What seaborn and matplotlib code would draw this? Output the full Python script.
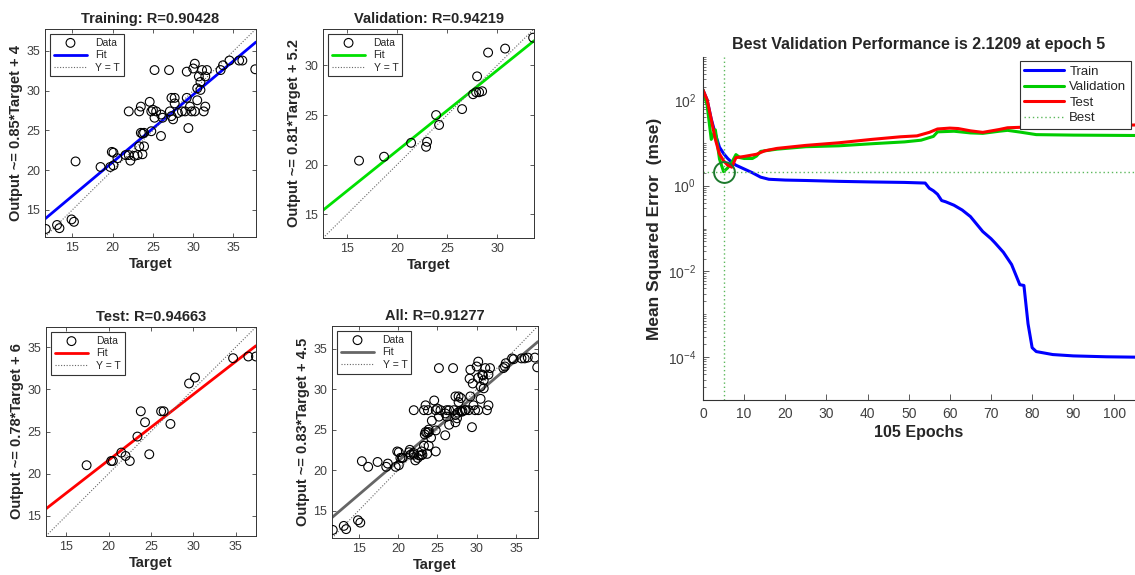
import numpy as np
import matplotlib
matplotlib.use("Agg")
import matplotlib.pyplot as plt
import seaborn as sns
from matplotlib.ticker import LogLocator, NullFormatter

# ── regression data (target, output) ───────────────────────────────────────
train_target = [11.7, 13.1, 13.4, 14.9, 15.2, 15.4, 18.5, 19.7, 20.1, 20.1, 19.9, 20.6,
                21.6, 22.0, 22.2, 22.0, 23.1, 23.3, 23.5, 23.7, 23.3, 23.5, 23.7, 23.9,
                23.9, 24.6, 24.8, 24.8, 25.0, 25.2, 25.2, 25.4, 26.0, 26.2, 27.0, 27.1,
                27.3, 27.3, 27.5, 27.7, 27.7, 28.1, 28.6, 29.0, 29.2, 29.2, 29.4, 29.6,
                29.8, 30.0, 30.2, 30.2, 30.5, 30.5, 30.7, 30.9, 31.1, 31.3, 31.5, 31.5,
                31.7, 33.4, 33.7, 34.5, 35.7, 36.1, 37.7, 30.9, 26.0, 22.7]
train_output = [12.6, 13.1, 12.7, 13.8, 13.5, 21.1, 20.4, 20.4, 20.6, 22.2, 22.3, 21.5,
                21.9, 21.9, 21.2, 27.4, 21.9, 23.0, 24.7, 24.6, 27.4, 28.0, 22.0, 23.0,
                24.7, 28.6, 27.4, 24.9, 27.6, 32.6, 26.6, 27.4, 24.3, 26.6, 32.6, 27.4,
                26.8, 29.1, 26.4, 29.1, 28.4, 27.2, 27.4, 27.4, 29.1, 32.4, 25.3, 28.0,
                27.4, 32.8, 33.4, 27.4, 28.8, 30.3, 31.8, 31.1, 32.6, 27.4, 31.8, 28.0,
                32.6, 32.6, 33.2, 33.8, 33.8, 33.8, 32.7, 30.1, 27.0, 21.8]

val_target = [16.2, 18.7, 21.4, 23.0, 22.9, 23.9, 24.2, 26.5, 27.6, 27.9, 28.2, 28.5,
              28.0, 29.1, 30.8, 33.6]
val_output = [20.4, 20.8, 22.2, 22.3, 21.8, 25.0, 24.0, 25.6, 27.1, 27.3, 27.3, 27.4,
              28.9, 31.3, 31.7, 32.8]

test_target = [17.4, 20.3, 20.5, 21.5, 22.0, 22.5, 23.4, 23.8, 24.3, 24.8, 26.2, 26.5,
               27.3, 29.5, 30.2, 34.7, 36.5, 37.4]
test_output = [21.0, 21.5, 21.5, 22.5, 22.1, 21.5, 24.4, 27.4, 26.1, 22.3, 27.4, 27.4,
               25.9, 30.7, 31.4, 33.7, 33.9, 33.9]

all_target = train_target + val_target + test_target
all_output = train_output + val_output + test_output

panel_titles = ["Training: R=0.90428", "Validation: R=0.94219",
                "Test: R=0.94663", "All: R=0.91277"]
fit_slopes = [0.85, 0.81, 0.78, 0.83]
fit_intercepts = [4.0, 5.2, 6.0, 4.5]
fit_labels = ["Output ~= 0.85*Target + 4", "Output ~= 0.81*Target + 5.2",
              "Output ~= 0.78*Target + 6", "Output ~= 0.83*Target + 4.5"]

# ── training record (epoch, mse) ─────────────────────────────────────────────
train_epochs = [0, 1, 2, 3, 4, 5, 6, 7, 8, 10, 12, 14, 16, 20, 25, 33, 41, 49, 54, 55,
                56, 57, 58, 59, 61, 63, 65, 68, 70, 71, 73, 75, 77, 78, 79, 80, 81, 85,
                90, 98, 105]
train_mse = [170, 100, 36, 16, 7.9, 5.6, 4.3, 3.5, 3.0, 2.45, 2.0, 1.58, 1.41, 1.35,
             1.32, 1.26, 1.22, 1.19, 1.15, 0.87, 0.76, 0.63, 0.45, 0.42, 0.35, 0.27,
             0.19, 0.085, 0.058, 0.046, 0.028, 0.0145, 0.0049, 0.0047, 0.0006, 0.000166,
             0.000135, 0.000115, 0.000107, 0.000102, 0.0001]
val_epochs = [0, 1, 2, 3, 4, 5, 6, 7, 8, 9, 10, 12, 13, 14, 18, 25, 33, 41, 49, 53, 56,
              57, 61, 65, 68, 72, 74, 77, 81, 90, 105]
val_mse = [170, 75, 12, 20, 4.2, 2.1209, 2.6, 3.5, 5.3, 4.5, 4.3, 4.3, 4.9, 6.3, 7.1,
           8.1, 8.5, 9.5, 10.5, 11.5, 14.1, 18.0, 18.6, 17.0, 16.6, 18.6, 19.5, 17.8,
           15.5, 15.1, 14.8]
test_epochs = [0, 1, 2, 3, 4, 5, 6, 7, 8, 10, 13, 15, 18, 25, 33, 41, 48, 52, 55, 57,
               60, 62, 65, 68, 72, 74, 80, 90, 105]
test_mse = [170, 100, 35, 12, 5.5, 3.8, 3.0, 2.7, 4.5, 4.8, 5.4, 6.5, 7.4, 8.7, 10,
            12, 13.8, 14.5, 17.5, 21, 22, 21.5, 19, 17.5, 20.4, 22.4, 23.5, 24.5, 26]
best_epoch = 5
best_perf = 2.1209

sns.set_style("ticks")
plt.rcParams["font.family"] = ["Liberation Sans", "DejaVu Sans"]
plt.rcParams["xtick.direction"] = "in"
plt.rcParams["ytick.direction"] = "in"

fig = plt.figure(figsize=(11.35, 5.75), dpi=100)

# ── four regression panels ─────────────────────────────────────────────────
positions = [[0.0396, 0.588, 0.186, 0.362], [0.2846, 0.586, 0.186, 0.364],
             [0.0405, 0.0678, 0.185, 0.3635], [0.2925, 0.0643, 0.1815, 0.3687]]
limits = [(11.6, 37.8), (12.6, 33.7), (12.6, 37.4), (11.6, 37.8)]
ticks = [[15, 20, 25, 30, 35], [15, 20, 25, 30], [15, 20, 25, 30, 35], [15, 20, 25, 30, 35]]
fit_colors = ["#0000ff", "#00e000", "#ff0000", "#666666"]
targets = [train_target, val_target, test_target, all_target]
outputs = [train_output, val_output, test_output, all_output]

for i in range(4):
    ax = fig.add_axes(positions[i])
    lo, hi = limits[i]
    xs = np.array([lo, hi])
    sns.scatterplot(x=targets[i], y=outputs[i], ax=ax, marker="o", s=40,
                    facecolor="none", edgecolor="black", linewidth=0.8,
                    label="Data", zorder=3)
    sns.lineplot(x=xs, y=fit_slopes[i] * xs + fit_intercepts[i], ax=ax,
                 color=fit_colors[i], lw=2.0, label="Fit")
    sns.lineplot(x=xs, y=xs, ax=ax, color="#666666", lw=0.8, ls=(0, (1, 1.5)),
                 label="Y = T")
    ax.set_xlim(lo, hi)
    ax.set_ylim(lo, hi)
    ax.set_xticks(ticks[i])
    ax.set_yticks(ticks[i])
    ax.tick_params(labelsize=9, colors="#404040", length=3, width=0.6,
                   top=True, right=True, labelcolor="#404040")
    for s in ax.spines.values():
        s.set_linewidth(0.7)
        s.set_color("#333333")
    ax.set_title(panel_titles[i], fontsize=10.5, fontweight="bold", pad=4)
    ax.set_xlabel("Target", fontsize=10.5, fontweight="bold", labelpad=2)
    ax.set_ylabel(fit_labels[i], fontsize=10.5, fontweight="bold", labelpad=2)
    leg = ax.legend(loc="upper left", fontsize=7.5, fancybox=False, framealpha=1,
                    edgecolor="#333333", handlelength=3.2, borderpad=0.35,
                    labelspacing=0.25, borderaxespad=0.5)
    leg.get_frame().set_linewidth(0.8)

# ── performance panel ──────────────────────────────────────────────────────
ax = fig.add_axes([0.6194, 0.3043, 0.3806, 0.5965])
sns.lineplot(x=train_epochs, y=train_mse, ax=ax, color="#0000ff", lw=2.2, label="Train")
sns.lineplot(x=val_epochs, y=val_mse, ax=ax, color="#00cc00", lw=2.2, label="Validation")
sns.lineplot(x=test_epochs, y=test_mse, ax=ax, color="#ff0000", lw=2.2, label="Test")
ax.set_yscale("log")
ax.set_xlim(0, 105)
ax.set_ylim(1e-5, 1e3)
ax.axvline(best_epoch, color="#5cb85c", lw=1.0, ls=(0, (1, 2)), label="Best")
ax.axhline(best_perf, color="#5cb85c", lw=1.0, ls=(0, (1, 2)))
ax.plot([best_epoch], [best_perf], marker="o", ms=15, mfc="none", mec="#1e7a2e",
        mew=1.4, ls="none")
ax.set_xticks(np.arange(0, 101, 10))
ax.set_yticks([1e-4, 1e-2, 1e0, 1e2])
ax.yaxis.set_minor_locator(LogLocator(base=10, subs=np.arange(1, 10), numticks=30))
ax.yaxis.set_minor_formatter(NullFormatter())
ax.tick_params(which="major", labelsize=10, colors="#404040", length=4, width=0.6,
               pad=5)
ax.tick_params(which="minor", length=2, width=0.5, colors="#404040")
sns.despine(ax=ax)
for s in ("left", "bottom"):
    ax.spines[s].set_linewidth(0.8)
    ax.spines[s].set_color("#333333")
ax.set_title("Best Validation Performance is 2.1209 at epoch 5", fontsize=11.5,
             fontweight="bold", pad=6)
ax.set_xlabel("105 Epochs", fontsize=11.5, fontweight="bold", labelpad=3)
ax.set_ylabel("Mean Squared Error  (mse)", fontsize=12.5, fontweight="bold")
leg = ax.legend(loc="upper right", fontsize=9.5, fancybox=False, framealpha=1,
                edgecolor="#333333", handlelength=3.0, borderpad=0.35,
                labelspacing=0.25, borderaxespad=0.3, handletextpad=0.4)
leg.get_frame().set_linewidth(0.8)

fig.savefig("out.png", dpi=100)
